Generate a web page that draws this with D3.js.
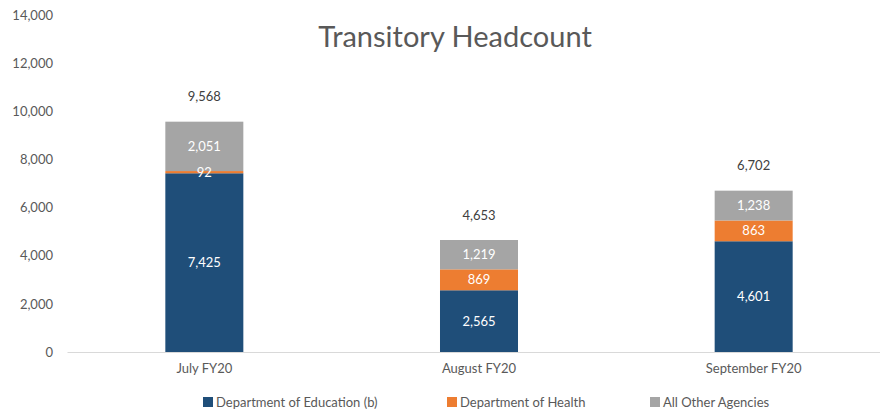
<!DOCTYPE html>
<html lang="en">
<head>
  <meta charset="UTF-8">
  <title>Transitory Headcount</title>
  <script src="https://d3js.org/d3.v7.min.js"></script>
  <style>
    body { margin: 0; background: #fff; }
    text { font-family: Lato, "Open Sans", sans-serif; }
    .tick text { font-size: 13px; fill: #595959; }
    .title { font-size: 29px; fill: #595959; text-anchor: middle; }
    .seg-label { font-size: 13px; fill: #fff; text-anchor: middle; }
    .total-label { font-size: 13px; fill: #404040; text-anchor: middle; }
    .legend text { font-size: 13px; fill: #595959; }
  </style>
</head>
<body>
  <svg width="880" height="414"></svg>
  <script>
    // data
    var months = ["July FY20", "August FY20", "September FY20"];
    var seriesNames = ["Department of Education (b)", "Department of Health", "All Other Agencies"];
    var education = [7425, 2565, 4601];
    var health = [92, 869, 863];
    var others = [2051, 1219, 1238];
    var totals = [9568, 4653, 6702];
    var yTicks = [0, 2000, 4000, 6000, 8000, 10000, 12000, 14000];
    var colors = ["#1F4E79", "#ED7D31", "#A5A5A5"];

    var svg = d3.select("svg"),
        margin = {top: 15, right: -11, bottom: 62, left: 67},
        width = +svg.attr("width") - margin.left - margin.right,
        height = +svg.attr("height") - margin.top - margin.bottom,
        g = svg.append("g").attr("transform", "translate(" + margin.left + "," + margin.top + ")");

    var table = months.map(function(m, i) {
      return {month: m, edu: education[i], health: health[i], others: others[i], total: totals[i]};
    });
    var keys = ["edu", "health", "others"];
    var stacked = d3.stack().keys(keys)(table);

    var x = d3.scaleBand()
              .domain(months)
              .range([0, width])
              .paddingInner(0.716)
              .paddingOuter(0.358);
    var y = d3.scaleLinear()
              .domain([0, 14000])
              .range([height, 0]);

    // y axis labels (no line)
    var yAxis = g.append("g")
      .call(d3.axisLeft(y).tickValues(yTicks).tickSize(0).tickPadding(14).tickFormat(d3.format(",")));
    yAxis.select(".domain").remove();

    // x axis
    var xAxis = g.append("g")
      .attr("transform", "translate(0," + height + ")")
      .call(d3.axisBottom(x).tickSize(0).tickPadding(12));
    xAxis.select(".domain").attr("stroke", "#D9D9D9").attr("stroke-width", 1);

    // bars
    var layer = g.selectAll(".layer")
      .data(stacked)
      .enter().append("g")
      .attr("class", "layer")
      .attr("fill", function(d, i) { return colors[i]; });

    layer.selectAll("rect")
      .data(function(d) { return d; })
      .enter().append("rect")
      .attr("x", function(d) { return x(d.data.month); })
      .attr("y", function(d) { return y(d[1]); })
      .attr("width", x.bandwidth())
      .attr("height", function(d) { return y(d[0]) - y(d[1]); });

    // segment labels drawn after all bars so the small ones stay visible
    var labels = g.selectAll(".label-layer")
      .data(stacked)
      .enter().append("g")
      .attr("class", "label-layer");

    labels.selectAll("text")
      .data(function(d) { return d; })
      .enter().append("text")
      .attr("class", "seg-label")
      .attr("x", function(d) { return x(d.data.month) + x.bandwidth() / 2; })
      .attr("y", function(d) { return (y(d[0]) + y(d[1])) / 2; })
      .attr("dy", ".35em")
      .text(function(d) { return d3.format(",")(d[1] - d[0]); });

    // totals
    g.selectAll(".total-label")
      .data(table)
      .enter().append("text")
      .attr("class", "total-label")
      .attr("x", function(d) { return x(d.month) + x.bandwidth() / 2; })
      .attr("y", function(d) { return y(d.total) - 25; })
      .attr("dy", ".35em")
      .text(function(d) { return d3.format(",")(d.total); });

    // title
    svg.append("text")
      .attr("class", "title")
      .attr("x", 455)
      .attr("y", 47)
      .text("Transitory Headcount");

    // legend
    var legendX = [203, 447, 650];
    var legend = svg.append("g").attr("class", "legend")
      .selectAll("g")
      .data(seriesNames)
      .enter().append("g")
      .attr("transform", function(d, i) { return "translate(" + legendX[i] + ",397)"; });
    legend.append("rect")
      .attr("width", 10).attr("height", 10)
      .attr("fill", function(d, i) { return colors[i]; });
    legend.append("text")
      .attr("x", 13)
      .attr("y", 5)
      .attr("dy", ".35em")
      .text(function(d) { return d; });
  </script>
</body>
</html>
